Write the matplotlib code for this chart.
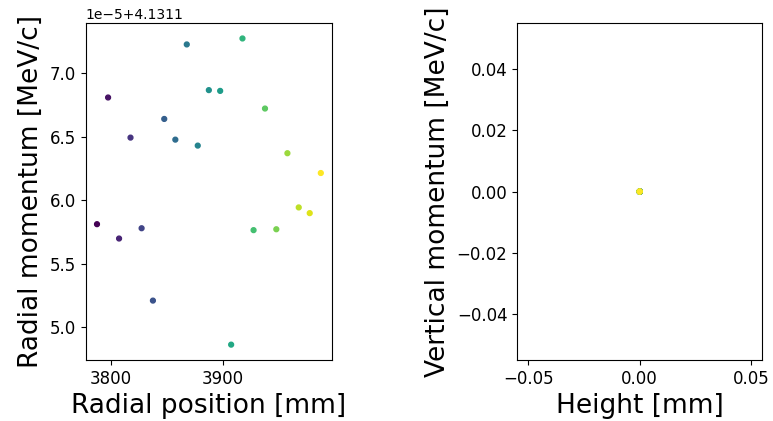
#radial vs vertical phase space
import numpy as np
import matplotlib.pyplot as plt

# radial position [mm] and radial momentum [MeV/c] of each particle
radial_pos = [3787.7, 3797.6, 3807.4, 3817.6, 3827.5, 3837.6, 3847.7,
              3857.6, 3867.8, 3877.6, 3887.5, 3897.6, 3907.4, 3917.5,
              3927.4, 3937.6, 3947.7, 3957.6, 3967.7, 3977.5, 3987.4]
radial_mom_e5 = [5.813, 6.811, 5.700, 6.495, 5.781, 5.211, 6.642,
                 6.479, 7.229, 6.432, 6.869, 6.863, 4.864, 7.276,
                 5.766, 6.724, 5.773, 6.372, 5.945, 5.900, 6.216]
radial_mom = [4.1311 + v * 1e-5 for v in radial_mom_e5]

# height [mm] and vertical momentum [MeV/c]: all particles sit at zero
height = [0.0] * 21
vertical_mom = [0.0] * 21

color_index = np.arange(len(radial_pos))

fig = plt.figure(figsize=(7.73, 4.21), dpi=100)
ax1 = fig.add_axes([0.111, 0.145, 0.3185, 0.80])
ax2 = fig.add_axes([0.669, 0.145, 0.317, 0.80])

ax1.scatter(radial_pos, radial_mom, c=color_index, cmap="viridis", s=12)
ax1.set_xlabel("Radial position [mm]", fontsize=19)
ax1.set_ylabel("Radial momentum [MeV/c]", fontsize=19)
ax1.tick_params(labelsize=12)

ax2.scatter(height, vertical_mom, c=color_index, cmap="viridis", s=12)
ax2.set_xlabel("Height [mm]", fontsize=19)
ax2.set_ylabel("Vertical momentum [MeV/c]", fontsize=19)
ax2.tick_params(labelsize=12)

fig.savefig("out.png", dpi=100)
